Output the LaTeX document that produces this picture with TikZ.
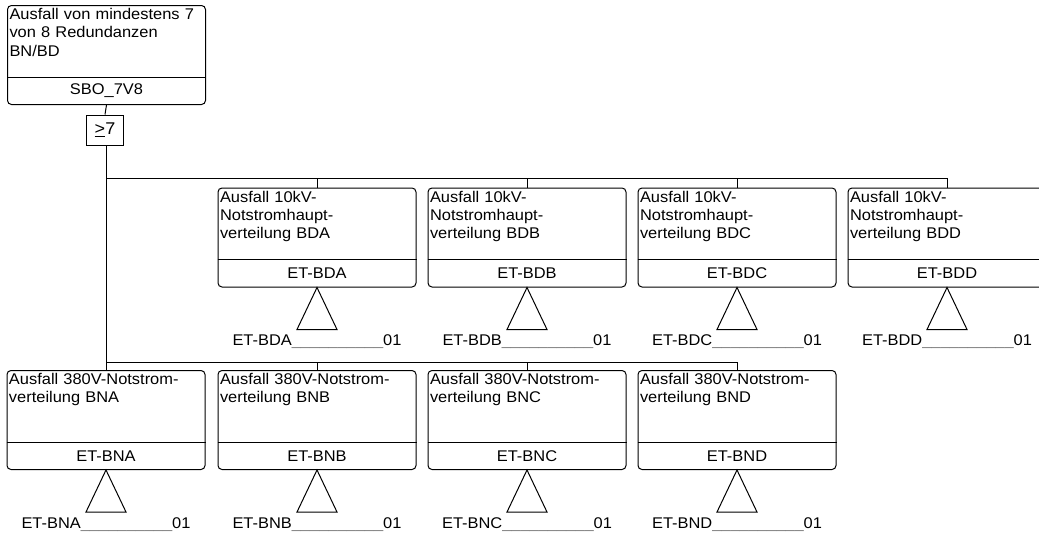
\documentclass[tikz,border=0pt]{standalone}
\usepackage{fontspec}
\setmainfont[FakeStretch=1.06]{Liberation Sans}
\begin{document}
\begin{tikzpicture}[x=1pt,y=-1pt,line width=1pt,
  every node/.style={font=\fontsize{15.5}{18.2}\selectfont, inner sep=0pt},
  ftbox/.style={draw, rounded corners=4pt, minimum width=198pt, minimum height=99pt},
  gatebox/.style={draw, minimum width=37pt, minimum height=30pt},
  desc/.style={anchor=north west, align=left, text width=194pt},
  lbl/.style={anchor=base}]
\useasboundingbox (0,0) rectangle (1039,533);
\newcommand\ftnode[4]{%
  \node[ftbox] (#1) at (#2,#3) {};
  \draw ([yshift=28pt]#1.south west) -- ([yshift=28pt]#1.south east);
  \node[desc] (#1d) at ([shift={(2pt,-3pt)}]#1.north west) {#4};
}
\newcommand\ftid[2]{%
  \node (#1i) at ([yshift=14pt]#1.south) {#2};
}
\newcommand\ftxfer[2]{%
  \draw (#1.south) -- ++(-20,42) -- ++(40,0) -- cycle;
  \node[lbl] (#1l) at ([yshift=-58pt]#1.south) {#2{\color{gray}\_\_\_\_\_\_\_\_\_\_}01};
}
% top event
\ftnode{top}{106.5}{55}{Ausfall von mindestens 7\\von 8 Redundanzen\\BN/BD}
\ftid{top}{SBO\_7V8}
\node[gatebox] (gate) at (105,130) {\fontsize{17}{18}\selectfont\underline{>}7};
\draw (top.south) -- (gate.north);
% top row
\ftnode{bda}{317}{237.5}{Ausfall 10kV-\\Notstromhaupt-\\verteilung BDA}
\ftid{bda}{ET-BDA}\ftxfer{bda}{ET-BDA}
\ftnode{bdb}{527}{237.5}{Ausfall 10kV-\\Notstromhaupt-\\verteilung BDB}
\ftid{bdb}{ET-BDB}\ftxfer{bdb}{ET-BDB}
\ftnode{bdc}{737}{237.5}{Ausfall 10kV-\\Notstromhaupt-\\verteilung BDC}
\ftid{bdc}{ET-BDC}\ftxfer{bdc}{ET-BDC}
\ftnode{bdd}{947}{237.5}{Ausfall 10kV-\\Notstromhaupt-\\verteilung BDD}
\ftid{bdd}{ET-BDD}\ftxfer{bdd}{ET-BDD}
% bottom row
\ftnode{bna}{106}{420}{Ausfall 380V-Notstrom-\\verteilung BNA}
\ftid{bna}{ET-BNA}\ftxfer{bna}{ET-BNA}
\ftnode{bnb}{317}{420}{Ausfall 380V-Notstrom-\\verteilung BNB}
\ftid{bnb}{ET-BNB}\ftxfer{bnb}{ET-BNB}
\ftnode{bnc}{527}{420}{Ausfall 380V-Notstrom-\\verteilung BNC}
\ftid{bnc}{ET-BNC}\ftxfer{bnc}{ET-BNC}
\ftnode{bnd}{737}{420}{Ausfall 380V-Notstrom-\\verteilung BND}
\ftid{bnd}{ET-BND}\ftxfer{bnd}{ET-BND}
% buses
\coordinate (bus1) at (106,178);
\coordinate (bus2) at (106,362);
\draw (gate.south -| bus1) -- (bna.north);
\draw (bus1) -| (bdd.north);
\foreach \n in {bda,bdb,bdc} \draw (\n.north) -- (\n.north |- bus1);
\draw (bus2) -| (bnd.north);
\foreach \n in {bnb,bnc} \draw (\n.north) -- (\n.north |- bus2);
\end{tikzpicture}
\end{document}
